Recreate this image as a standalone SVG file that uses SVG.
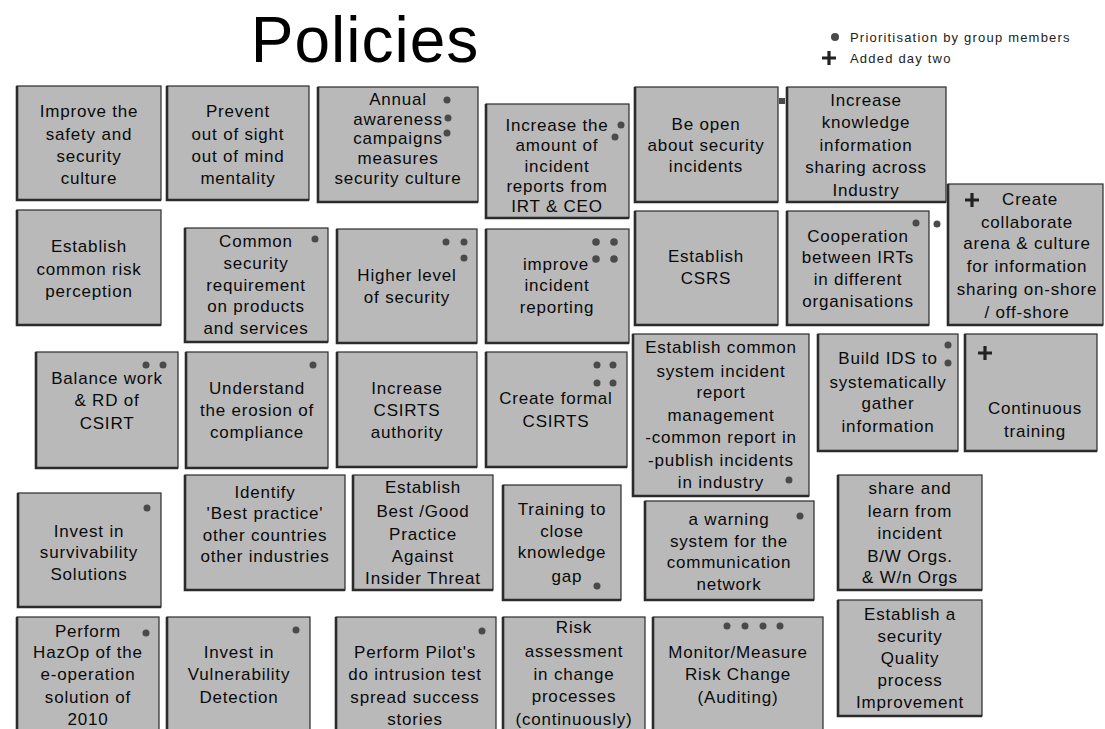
<svg xmlns="http://www.w3.org/2000/svg" width="1105" height="729" viewBox="0 0 1105 729">
<style>
  .bg { fill: #ffffff; }
  .box rect.card { fill: #b9b9b9; stroke: #2b2b2b; stroke-width: 1.2; }
  .box path.edge { fill: none; stroke: #2b2b2b; stroke-width: 2.6; }
  .t { font-family: "Liberation Sans", Arial, sans-serif; font-size: 17px; letter-spacing: 0.8px; fill: #0a0a0a; text-anchor: middle; }
  .dot { fill: #4a4a4a; stroke: none; }
  .plus { stroke: #222; stroke-width: 3.2; fill: none; }
  .title { font-family: "Liberation Sans", Arial, sans-serif; font-size: 64px; fill: #000; text-anchor: middle; letter-spacing: 1px; }
  .legend { font-family: "Liberation Sans", Arial, sans-serif; font-size: 13px; fill: #222; letter-spacing: 1.2px; }
</style>
<defs>
  <path id="plusMark" d="M-7 0 H7 M0 -7 V7" class="plus"/>
</defs>
<rect class="bg" x="0" y="0" width="1105" height="729"/>

<text class="title" x="365" y="62">Policies</text>

<g id="legend">
  <circle class="dot" cx="835" cy="37" r="4"/>
  <text class="legend" x="850" y="42">Prioritisation by group members</text>
  <use href="#plusMark" x="829" y="58"/>
  <text class="legend" x="850" y="63">Added day two</text>
</g>

<g id="connectors"></g>

<!-- row 1 -->
<g id="n-improve-safety" class="box">
  <rect class="card" x="17" y="86" width="144" height="114"/>
  <path class="edge" d="M17 86 V200 H161"/>
  <text class="t"><tspan x="89" y="117">Improve the</tspan><tspan x="89" y="140">safety and</tspan><tspan x="89" y="162">security</tspan><tspan x="89" y="184">culture</tspan></text>
</g>
<g id="n-prevent" class="box">
  <rect class="card" x="167" y="86" width="142" height="114"/>
  <path class="edge" d="M167 86 V200 H309"/>
  <text class="t"><tspan x="238" y="117">Prevent</tspan><tspan x="238" y="140">out of sight</tspan><tspan x="238" y="162">out of mind</tspan><tspan x="238" y="184">mentality</tspan></text>
</g>
<g id="n-annual" class="box">
  <rect class="card" x="318" y="87" width="160" height="115"/>
  <path class="edge" d="M318 87 V202 H478"/>
  <text class="t"><tspan x="398" y="105">Annual</tspan><tspan x="398" y="125">awareness</tspan><tspan x="398" y="144">campaigns</tspan><tspan x="398" y="164">measures</tspan><tspan x="398" y="184">security culture</tspan></text>
  <circle class="dot" cx="447" cy="100" r="3.5"/>
  <circle class="dot" cx="448" cy="118" r="3.5"/>
  <circle class="dot" cx="447" cy="133" r="3.5"/>
</g>
<g id="n-increase-reports" class="box">
  <rect class="card" x="486" y="104" width="143" height="114"/>
  <path class="edge" d="M486 104 V218 H629"/>
  <text class="t"><tspan x="557" y="131">Increase the</tspan><tspan x="557" y="151">amount of</tspan><tspan x="557" y="172">incident</tspan><tspan x="557" y="192">reports from</tspan><tspan x="557" y="212">IRT &amp; CEO</tspan></text>
  <circle class="dot" cx="621" cy="125" r="3.5"/>
  <circle class="dot" cx="615" cy="137" r="3.5"/>
</g>
<g id="n-be-open" class="box">
  <rect class="card" x="635" y="87" width="143" height="115"/>
  <path class="edge" d="M635 87 V202 H778"/>
  <text class="t"><tspan x="706" y="130">Be open</tspan><tspan x="706" y="151">about security</tspan><tspan x="706" y="172">incidents</tspan></text>
  <rect class="dot" x="779" y="98" width="6" height="6"/>
</g>
<g id="n-increase-knowledge" class="box">
  <rect class="card" x="787" y="87" width="159" height="115"/>
  <path class="edge" d="M787 87 V202 H946"/>
  <text class="t"><tspan x="866" y="106">Increase</tspan><tspan x="866" y="128">knowledge</tspan><tspan x="866" y="151">information</tspan><tspan x="866" y="173">sharing across</tspan><tspan x="866" y="196">Industry</tspan></text>
</g>
<g id="n-collaborate" class="box">
  <rect class="card" x="948" y="184" width="155" height="141"/>
  <path class="edge" d="M948 184 V325 H1103"/>
  <use href="#plusMark" x="972" y="200"/>
  <text class="t"><tspan x="1030" y="205">Create</tspan><tspan x="1027" y="228">collaborate</tspan><tspan x="1027" y="249">arena &amp; culture</tspan><tspan x="1027" y="272">for information</tspan><tspan x="1027" y="295">sharing on-shore</tspan><tspan x="1027" y="318">/ off-shore</tspan></text>
</g>

<!-- row 2 -->
<g id="n-risk-perception" class="box">
  <rect class="card" x="17" y="210" width="144" height="115"/>
  <path class="edge" d="M17 210 V325 H161"/>
  <text class="t"><tspan x="89" y="252">Establish</tspan><tspan x="89" y="275">common risk</tspan><tspan x="89" y="297">perception</tspan></text>
</g>
<g id="n-common-requirement" class="box">
  <rect class="card" x="185" y="228" width="143" height="114"/>
  <path class="edge" d="M185 228 V342 H328"/>
  <text class="t"><tspan x="256" y="247">Common</tspan><tspan x="256" y="269">security</tspan><tspan x="256" y="291">requirement</tspan><tspan x="256" y="312">on products</tspan><tspan x="256" y="334">and services</tspan></text>
  <circle class="dot" cx="315" cy="239" r="3.5"/>
</g>
<g id="n-higher-level" class="box">
  <rect class="card" x="337" y="229" width="140" height="114"/>
  <path class="edge" d="M337 229 V343 H477"/>
  <text class="t"><tspan x="407" y="281">Higher level</tspan><tspan x="407" y="303">of security</tspan></text>
  <circle class="dot" cx="446" cy="242" r="3.5"/>
  <circle class="dot" cx="464" cy="242" r="3.5"/>
  <circle class="dot" cx="464" cy="258" r="3.5"/>
</g>
<g id="n-improve-reporting" class="box">
  <rect class="card" x="486" y="229" width="143" height="114"/>
  <path class="edge" d="M486 229 V343 H629"/>
  <text class="t"><tspan x="556" y="270">improve</tspan><tspan x="557" y="291">incident</tspan><tspan x="557" y="313">reporting</tspan></text>
  <circle class="dot" cx="596" cy="242" r="3.8"/>
  <circle class="dot" cx="614" cy="242" r="3.8"/>
  <circle class="dot" cx="596" cy="259" r="3.8"/>
  <circle class="dot" cx="614" cy="259" r="3.8"/>
</g>
<g id="n-csrs" class="box">
  <rect class="card" x="635" y="211" width="143" height="114"/>
  <path class="edge" d="M635 211 V325 H778"/>
  <text class="t"><tspan x="706" y="262">Establish</tspan><tspan x="706" y="284">CSRS</tspan></text>
</g>
<g id="n-cooperation" class="box">
  <rect class="card" x="787" y="211" width="142" height="114"/>
  <path class="edge" d="M787 211 V325 H929"/>
  <text class="t"><tspan x="858" y="242">Cooperation</tspan><tspan x="858" y="263">between IRTs</tspan><tspan x="858" y="285">in different</tspan><tspan x="858" y="307">organisations</tspan></text>
  <circle class="dot" cx="916" cy="223" r="3.5"/>
  <circle class="dot" cx="937" cy="224" r="3.5"/>
</g>

<!-- row 3 -->
<g id="n-balance-work" class="box">
  <rect class="card" x="36" y="352" width="142" height="116"/>
  <path class="edge" d="M36 352 V468 H178"/>
  <text class="t"><tspan x="107" y="384">Balance work</tspan><tspan x="107" y="406">&amp; RD of</tspan><tspan x="107" y="429">CSIRT</tspan></text>
  <circle class="dot" cx="146" cy="365" r="3.5"/>
  <circle class="dot" cx="163" cy="365" r="3.5"/>
</g>
<g id="n-erosion" class="box">
  <rect class="card" x="186" y="352" width="142" height="116"/>
  <path class="edge" d="M186 352 V468 H328"/>
  <text class="t"><tspan x="257" y="394">Understand</tspan><tspan x="257" y="416">the erosion of</tspan><tspan x="257" y="438">compliance</tspan></text>
  <circle class="dot" cx="313" cy="365" r="3.5"/>
</g>
<g id="n-csirts-authority" class="box">
  <rect class="card" x="337" y="352" width="140" height="115"/>
  <path class="edge" d="M337 352 V467 H477"/>
  <text class="t"><tspan x="407" y="394">Increase</tspan><tspan x="407" y="416">CSIRTS</tspan><tspan x="407" y="438">authority</tspan></text>
</g>
<g id="n-formal-csirts" class="box">
  <rect class="card" x="486" y="352" width="141" height="115"/>
  <path class="edge" d="M486 352 V467 H627"/>
  <text class="t"><tspan x="556" y="404">Create formal</tspan><tspan x="556" y="427">CSIRTS</tspan></text>
  <circle class="dot" cx="597" cy="365" r="3.5"/>
  <circle class="dot" cx="613" cy="365" r="3.5"/>
  <circle class="dot" cx="597" cy="383" r="3.5"/>
  <circle class="dot" cx="613" cy="383" r="3.5"/>
</g>
<g id="n-report-management" class="box">
  <rect class="card" x="633" y="334" width="176" height="162"/>
  <path class="edge" d="M633 334 V496 H809"/>
  <text class="t"><tspan x="721" y="353">Establish common</tspan><tspan x="721" y="377">system incident</tspan><tspan x="721" y="398">report</tspan><tspan x="721" y="421">management</tspan><tspan x="721" y="443">-common report in</tspan><tspan x="721" y="466">-publish incidents</tspan><tspan x="721" y="488">in industry</tspan></text>
  <circle class="dot" cx="789" cy="480" r="3.5"/>
</g>
<g id="n-build-ids" class="box">
  <rect class="card" x="818" y="334" width="140" height="117"/>
  <path class="edge" d="M818 334 V451 H958"/>
  <text class="t"><tspan x="888" y="364">Build IDS to</tspan><tspan x="888" y="388">systematically</tspan><tspan x="888" y="409">gather</tspan><tspan x="888" y="432">information</tspan></text>
  <circle class="dot" cx="948" cy="345" r="3.5"/>
  <circle class="dot" cx="948" cy="363" r="3.5"/>
</g>
<g id="n-continuous-training" class="box">
  <rect class="card" x="965" y="334" width="132" height="117"/>
  <path class="edge" d="M965 334 V451 H1097"/>
  <use href="#plusMark" x="985" y="353"/>
  <text class="t"><tspan x="1035" y="414">Continuous</tspan><tspan x="1035" y="437">training</tspan></text>
</g>

<!-- row 4 -->
<g id="n-survivability" class="box">
  <rect class="card" x="18" y="493" width="143" height="114"/>
  <path class="edge" d="M18 493 V607 H161"/>
  <text class="t"><tspan x="89" y="537">Invest in</tspan><tspan x="89" y="558">survivability</tspan><tspan x="89" y="580">Solutions</tspan></text>
  <circle class="dot" cx="147" cy="508" r="3.5"/>
</g>
<g id="n-best-practice" class="box">
  <rect class="card" x="185" y="475" width="160" height="115"/>
  <path class="edge" d="M185 475 V590 H345"/>
  <text class="t"><tspan x="265" y="498">Identify</tspan><tspan x="265" y="519">'Best practice'</tspan><tspan x="265" y="541">other countries</tspan><tspan x="265" y="562">other industries</tspan></text>
</g>
<g id="n-insider-threat" class="box">
  <rect class="card" x="353" y="475" width="140" height="115"/>
  <path class="edge" d="M353 475 V590 H493"/>
  <text class="t"><tspan x="423" y="493">Establish</tspan><tspan x="423" y="517">Best /Good</tspan><tspan x="423" y="540">Practice</tspan><tspan x="423" y="562">Against</tspan><tspan x="423" y="584">Insider Threat</tspan></text>
</g>
<g id="n-training-gap" class="box">
  <rect class="card" x="503" y="485" width="118" height="115"/>
  <path class="edge" d="M503 485 V600 H621"/>
  <text class="t"><tspan x="562" y="515">Training to</tspan><tspan x="562" y="537">close</tspan><tspan x="562" y="558">knowledge</tspan><tspan x="567" y="582">gap</tspan></text>
  <circle class="dot" cx="597" cy="586" r="3.5"/>
</g>
<g id="n-warning-system" class="box">
  <rect class="card" x="645" y="501" width="169" height="99"/>
  <path class="edge" d="M645 501 V600 H814"/>
  <text class="t"><tspan x="729" y="525">a warning</tspan><tspan x="729" y="547">system for the</tspan><tspan x="729" y="568">communication</tspan><tspan x="729" y="590">network</tspan></text>
  <circle class="dot" cx="800" cy="516" r="3.5"/>
</g>
<g id="n-share-learn" class="box">
  <rect class="card" x="838" y="475" width="144" height="115"/>
  <path class="edge" d="M838 475 V590 H982"/>
  <text class="t"><tspan x="910" y="494">share and</tspan><tspan x="910" y="517">learn from</tspan><tspan x="910" y="539">incident</tspan><tspan x="910" y="562">B/W Orgs.</tspan><tspan x="910" y="583">&amp; W/n Orgs</tspan></text>
</g>

<!-- row 5 -->
<g id="n-hazop" class="box">
  <rect class="card" x="17" y="617" width="142" height="116"/>
  <path class="edge" d="M17 617 V733"/>
  <text class="t"><tspan x="88" y="637">Perform</tspan><tspan x="88" y="658">HazOp of the</tspan><tspan x="88" y="680">e-operation</tspan><tspan x="88" y="703">solution of</tspan><tspan x="88" y="725">2010</tspan></text>
  <circle class="dot" cx="146" cy="633" r="3.5"/>
</g>
<g id="n-vulnerability" class="box">
  <rect class="card" x="167" y="617" width="143" height="116"/>
  <path class="edge" d="M167 617 V733"/>
  <text class="t"><tspan x="239" y="658">Invest in</tspan><tspan x="239" y="680">Vulnerability</tspan><tspan x="239" y="703">Detection</tspan></text>
  <circle class="dot" cx="296" cy="630" r="3.5"/>
</g>
<g id="n-pilots" class="box">
  <rect class="card" x="336" y="617" width="160" height="116"/>
  <path class="edge" d="M336 617 V733"/>
  <text class="t"><tspan x="415" y="658">Perform Pilot's</tspan><tspan x="415" y="680">do intrusion test</tspan><tspan x="415" y="703">spread success</tspan><tspan x="415" y="725">stories</tspan></text>
  <circle class="dot" cx="482" cy="631" r="3.5"/>
</g>
<g id="n-risk-assessment" class="box">
  <rect class="card" x="503" y="617" width="142" height="116"/>
  <path class="edge" d="M503 617 V733"/>
  <text class="t"><tspan x="574" y="633">Risk</tspan><tspan x="574" y="657">assessment</tspan><tspan x="574" y="680">in change</tspan><tspan x="574" y="702">processes</tspan><tspan x="574" y="725">(continuously)</tspan></text>
</g>
<g id="n-monitor" class="box">
  <rect class="card" x="653" y="617" width="170" height="116"/>
  <path class="edge" d="M653 617 V733"/>
  <text class="t"><tspan x="738" y="658">Monitor/Measure</tspan><tspan x="738" y="680">Risk Change</tspan><tspan x="738" y="703">(Auditing)</tspan></text>
  <circle class="dot" cx="727" cy="626" r="3.5"/>
  <circle class="dot" cx="745" cy="626" r="3.5"/>
  <circle class="dot" cx="763" cy="626" r="3.5"/>
  <circle class="dot" cx="780" cy="626" r="3.5"/>
</g>
<g id="n-quality" class="box">
  <rect class="card" x="838" y="600" width="144" height="116"/>
  <path class="edge" d="M838 600 V716 H982"/>
  <text class="t"><tspan x="910" y="620">Establish a</tspan><tspan x="910" y="642">security</tspan><tspan x="910" y="664">Quality</tspan><tspan x="910" y="686">process</tspan><tspan x="910" y="708">Improvement</tspan></text>
</g>
</svg>
